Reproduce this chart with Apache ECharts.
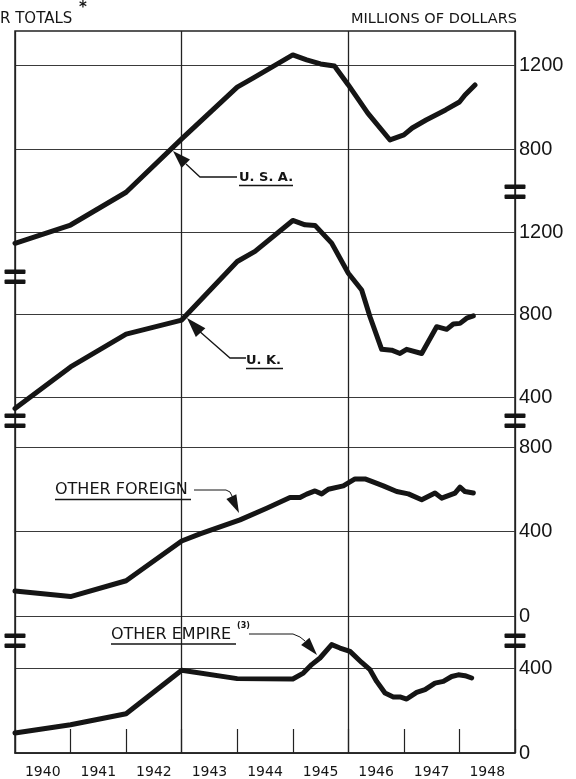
<!DOCTYPE html>
<html><head><meta charset="utf-8">
<script src="https://cdn.jsdelivr.net/npm/echarts@6/dist/echarts.min.js"></script>
<style>html,body{margin:0;padding:0;background:#fff}#c{width:576px;height:779px}</style>
</head><body><div id="c"></div>
<script>
// ---- data (millions of dollars) ----
const yearLabels = ['1940','1941','1942','1943','1944','1945','1946','1947','1948'];

const usaYears  = [1940.0,1941.0,1942.0,1943.0,1944.0,1944.3,1945.0,1945.25,1945.5,1945.75,1946.0,1946.35,1946.75,1947.0,1947.15,1947.4,1947.75,1948.0,1948.1,1948.28];
const usaValues = [351,438,594,848,1095,1140,1248,1224,1205,1195,1105,971,843,867,900,938,986,1024,1057,1105];

const ukYears  = [1940.0,1941.0,1942.0,1943.0,1944.0,1944.32,1945.0,1945.22,1945.4,1945.7,1946.0,1946.24,1946.39,1946.6,1946.78,1946.93,1947.05,1947.32,1947.59,1947.77,1947.89,1948.01,1948.13,1948.25];
const ukValues = [344,546,705,773,1057,1106,1256,1235,1232,1146,1000,919,789,631,627,611,631,611,741,728,754,757,782,793];

const ofYears  = [1940.0,1941.0,1942.0,1943.0,1943.33,1944.05,1944.53,1944.95,1945.13,1945.25,1945.4,1945.52,1945.64,1945.91,1946.12,1946.3,1946.42,1946.63,1946.87,1947.08,1947.32,1947.56,1947.68,1947.92,1948.01,1948.1,1948.25];
const ofValues = [118,92,167,355,389,455,510,561,561,577,592,578,600,616,649,649,637,616,589,578,550,582,558,582,610,589,582];

const oeYears  = [1940.0,1941.0,1942.0,1943.0,1944.0,1945.0,1945.19,1945.34,1945.49,1945.7,1945.85,1946.03,1946.24,1946.39,1946.51,1946.66,1946.81,1946.93,1947.05,1947.23,1947.38,1947.56,1947.71,1947.86,1947.98,1948.1,1948.22];
const oeValues = [94,133,185,389,350,348,376,416,447,510,494,478,426,392,337,282,264,264,254,285,298,329,337,360,368,364,353];

// ---- layout ----
const L = 15, R = 61;
const panels = [
  {xs: usaYears, ys: usaValues, top: 65,  bottom: 630, min: 800, max: 1200},
  {xs: ukYears,  ys: ukValues,  top: 232, bottom: 382, min: 400, max: 1200},
  {xs: ofYears,  ys: ofValues,  top: 447, bottom: 163, min: 0,   max: 800},
  {xs: oeYears,  ys: oeValues,  top: 668, bottom: 26,  min: 0,   max: 400}
];
const INK = '#151515';
const grid = [], xAxis = [], yAxis = [], series = [];
panels.forEach((p, i) => {
  grid.push({left: L, right: R, top: p.top, bottom: p.bottom});
  xAxis.push({gridIndex: i, type: 'value', min: 1940, max: 1949, show: false});
  yAxis.push({gridIndex: i, type: 'value', position: 'right', min: p.min, max: p.max, interval: 400,
    axisLine: {show: false}, axisTick: {show: false},
    splitLine: {show: true, lineStyle: {color: '#3a3a3a', width: 1}},
    axisLabel: {color: INK, fontFamily: 'Liberation Sans', fontSize: 20, margin: 4,
      formatter: v => String(v)}});
  series.push({type: 'line', xAxisIndex: i, yAxisIndex: i, clip: false, showSymbol: false, silent: true,
    animation: false, z: 5,
    lineStyle: {color: INK, width: 5, join: 'round', cap: 'round'},
    data: p.xs.map((x, j) => [x, p.ys[j]])});
});
// frame grid
grid.push({left: L, right: R, top: 31, bottom: 26, show: true, borderColor: '#222', borderWidth: 1.5, backgroundColor: 'transparent'});
xAxis.push({gridIndex: 4, type: 'category', data: yearLabels, boundaryGap: true, position: 'bottom',
  axisLine: {show: true, lineStyle: {color: '#222', width: 1.5}},
  axisTick: {show: true, inside: true, length: 24, lineStyle: {color: '#222', width: 1.2}},
  axisLabel: {color: INK, fontFamily: 'DejaVu Sans', fontSize: 14, margin: 12},
  splitLine: {show: false}});
xAxis.push({gridIndex: 4, type: 'value', min: 0, max: 9, interval: 3, position: 'top',
  axisLine: {show: false}, axisTick: {show: false}, axisLabel: {show: false},
  splitLine: {show: true, lineStyle: {color: '#222', width: 1.3}}});
yAxis.push({gridIndex: 4, type: 'value', min: 0, max: 1, show: false});

// ---- annotations ----
function arrow(tip, from, len, hw) {
  const dx = from[0] - tip[0], dy = from[1] - tip[1];
  const d = Math.hypot(dx, dy), ux = dx / d, uy = dy / d;
  const bx = tip[0] + ux * len, by = tip[1] + uy * len;
  return {type: 'polygon', shape: {points: [tip, [bx - uy * hw, by + ux * hw], [bx + uy * hw, by - ux * hw]]}, style: {fill: INK}, z: 10};
}
function txt(text, x, y, font, align) {
  return {type: 'text', x: x, y: y, z: 10, style: {text: text, font: font, fill: INK,
    textAlign: align || 'left', align: align || 'left', textVerticalAlign: 'middle', verticalAlign: 'middle'}};
}
function ln(x1, y1, x2, y2, w) {
  return {type: 'line', z: 10, shape: {x1: x1, y1: y1, x2: x2, y2: y2}, style: {stroke: INK, lineWidth: w || 1}};
}
function pl(points, w) {
  return {type: 'polyline', z: 10, shape: {points: points}, style: {stroke: INK, lineWidth: w || 1, fill: null}};
}
function brk(cx, cy) {
  return [
    {type: 'rect', z: 10, shape: {x: cx - 10.5, y: cy - 7.5, width: 21, height: 4.5, r: 1}, style: {fill: INK}},
    {type: 'rect', z: 10, shape: {x: cx - 10.5, y: cy + 2.5, width: 21, height: 4.5, r: 1}, style: {fill: INK}}
  ];
}
const F = 'DejaVu Sans';
const graphic = [
  txt('R TOTALS', 0, 19, '15px ' + F),
  txt('*', 79, 8, 'bold 15px ' + F),
  txt('MILLIONS OF DOLLARS', 517, 19, '14.5px ' + F, 'right'),
  // U.S.A.
  txt('U. S. A.', 239, 178, 'bold 13px ' + F),
  ln(239, 185.5, 293, 185.5, 1.3),
  pl([[237, 177], [200, 177], [186, 164]], 1.3),
  arrow([173, 151], [188, 166], 18, 6),
  // U.K.
  txt('U. K.', 246, 361, 'bold 13px ' + F),
  ln(246, 368.5, 283, 368.5, 1.3),
  pl([[246, 358], [230, 358], [198, 330]], 1.3),
  arrow([187, 318], [200, 332], 20, 6.5),
  // Other foreign
  txt('OTHER FOREIGN', 55, 490, '16px ' + F),
  ln(55, 499.5, 191, 499.5, 1.3),
  pl([[194, 490], [226, 490], [230, 492], [233, 498]], 1),
  arrow([239, 513], [231, 496], 18, 5.5),
  // Other empire
  txt('OTHER EMPIRE', 111, 635, '16px ' + F),
  txt('(3)', 237, 626, 'bold 8px ' + F),
  ln(111, 644, 236, 644, 1.3),
  pl([[249, 634], [293, 634], [300, 637], [305, 641]], 1),
  arrow([317, 655], [305, 641], 18, 5.5)
].concat(brk(515, 192), brk(15, 277), brk(15, 421), brk(515, 421), brk(15, 641), brk(515, 641));

const chart = echarts.init(document.getElementById('c'), null, {renderer: 'canvas'});
chart.setOption({
  backgroundColor: '#ffffff',
  animation: false,
  grid: grid, xAxis: xAxis, yAxis: yAxis, series: series, graphic: graphic
});
</script></body></html>
